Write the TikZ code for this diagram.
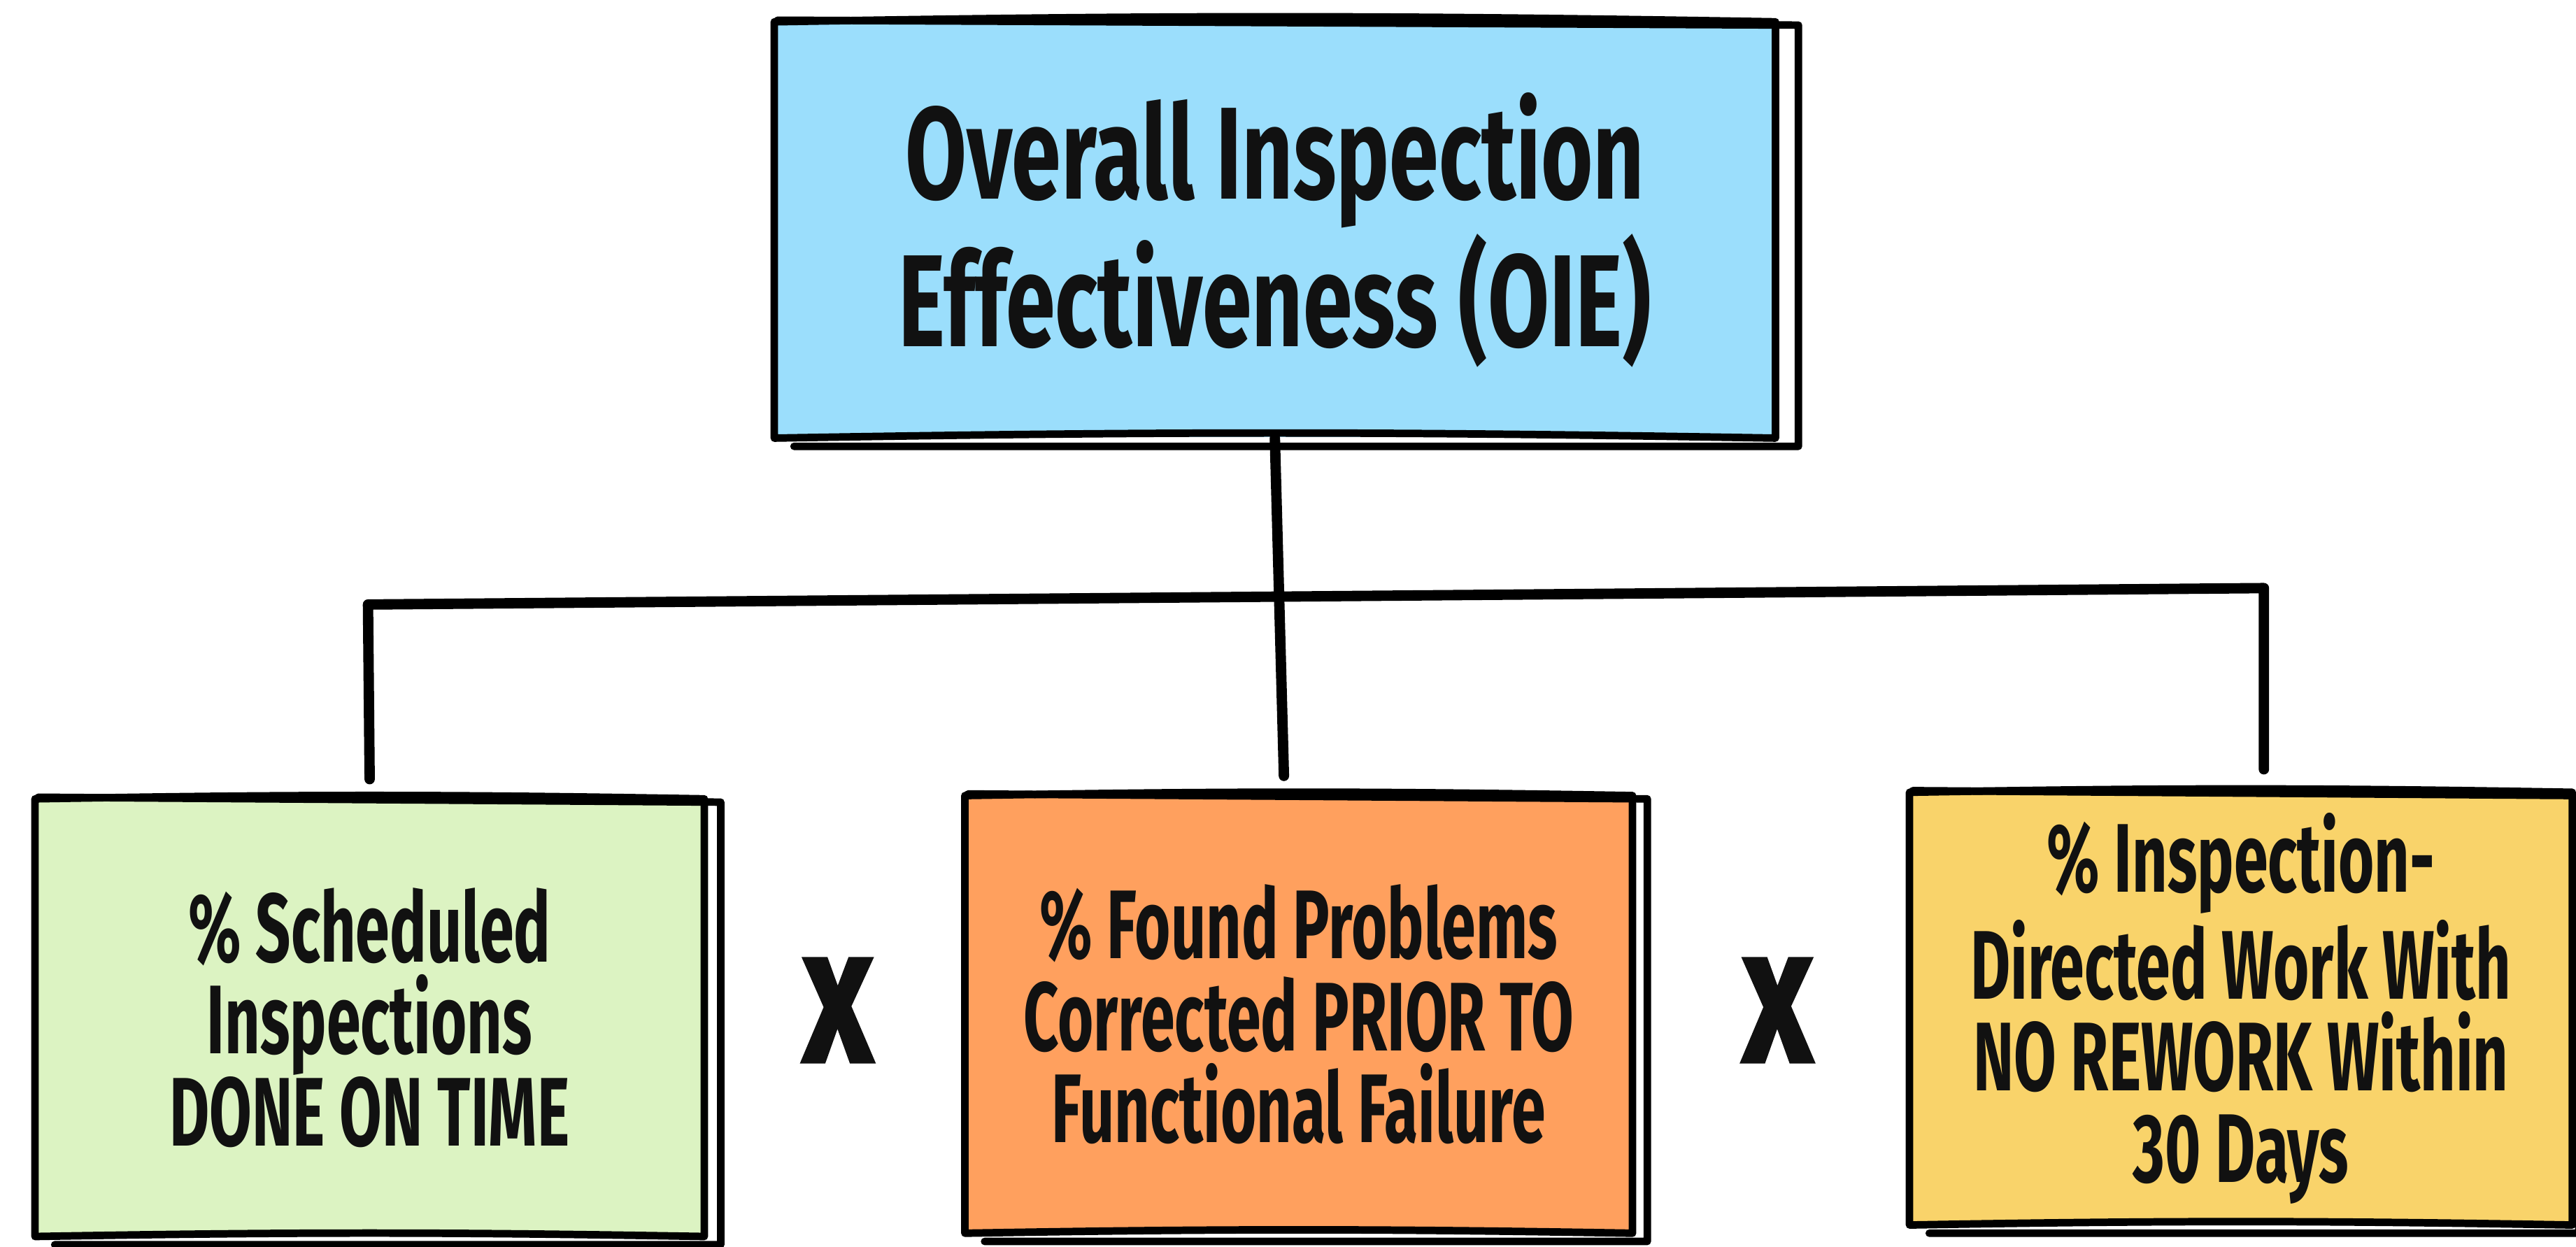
\documentclass[tikz,border=0pt]{standalone}
\usepackage{fontspec}
\setmainfont{Fira Sans}[FakeStretch=0.68]
\newfontfamily\cardfont{Fira Sans}[FakeStretch=0.63]
\newfontfamily\timesfont{Fira Sans}[FakeStretch=0.8, FakeBold=3]
\usetikzlibrary{positioning}

\definecolor{oieblue}{HTML}{9BDEFC}
\definecolor{schedgreen}{HTML}{DCF3C2}
\definecolor{foundorange}{HTML}{FFA05E}
\definecolor{reworkyellow}{HTML}{F9D36A}
\definecolor{ink}{HTML}{111111}

% two loose strokes round a box, hand drawn look
\newcommand{\roughbox}[2]{%
  \draw[pen] (#1.north west) to[bend left=1] (#1.north east) -- (#1.south east)
             to[bend right=1] (#1.south west) -- cycle;
  \draw[pen] ([shift={(0.02,0.01)}]#1.north west) -- ([shift={(#2,-0.02)}]#1.north east)
             -- ([shift={(#2,-0.05)}]#1.south east) -- ([shift={(0.12,-0.05)}]#1.south west);
}

\begin{document}
\begin{tikzpicture}[
    pen/.style={line width=1.3pt, black, line cap=round, line join=round},
    link/.style={line width=1.8pt, black, line cap=round, line join=round},
    card/.style={inner sep=0pt, align=center, text=ink, font=\cardfont\bfseries\fontsize{16.9}{15.9}\selectfont},
    times/.style={inner sep=0pt, text=ink, font=\timesfont\bfseries\fontsize{25.5}{25.5}\selectfont}
  ]
  \useasboundingbox (0,0) rectangle (15.68,7.59);

  % boxes
  \node[card, fill=oieblue, minimum width=6.08cm, minimum height=2.52cm,
        font=\rmfamily\bfseries\fontsize{22.7}{23.6}\selectfont] (oie) at (7.76,6.19)
        {Overall Inspection\\Effectiveness (OIE)};
  \node[card, fill=schedgreen, minimum width=4.06cm, minimum height=2.65cm] (sched) at (2.25,1.395)
        {\% Scheduled\\Inspections\\DONE ON TIME};
  \node[card, fill=foundorange, minimum width=4.05cm, minimum height=2.65cm] (found) at (7.905,1.415)
        {\% Found Problems\\Corrected PRIOR TO\\Functional Failure};
  \node[card, fill=reworkyellow, minimum width=4.02cm, minimum height=2.62cm] (rework) at (13.64,1.45)
        {\% Inspection-\\Directed Work With\\NO REWORK Within\\30 Days};

  \roughbox{oie}{0.14}
  \roughbox{sched}{0.10}
  \roughbox{found}{0.09}
  \roughbox{rework}{0.04}

  % multiply signs
  \node[times] (times1) at (5.10,1.44) {X};
  \node[times] (times2) at (10.82,1.44) {X};

  % tree lines
  \coordinate (busleft) at (2.24,3.91);
  \coordinate (busright) at (13.78,4.01);
  \draw[link] (oie.south) -- ([xshift=-0.9mm,yshift=1.2mm]found.north);
  \draw[link] ([yshift=1.2mm]sched.north) -- (busleft) -- (busright) -- ([xshift=1.4mm,yshift=1.4mm]rework.north);
\end{tikzpicture}
\end{document}
